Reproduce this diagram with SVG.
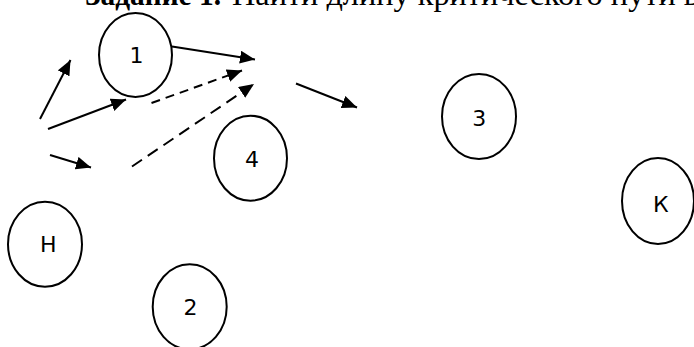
<svg xmlns="http://www.w3.org/2000/svg" width="694" height="347" viewBox="0 0 694 347">
<style>
.node ellipse{fill:none;stroke:#000;stroke-width:2}
.node text{font-family:"DejaVu Sans","Liberation Sans",sans-serif;font-size:22px;fill:#000;text-anchor:middle}
.title{font-family:"Liberation Serif","Times New Roman",serif;font-size:31px;fill:#000}
.edge{stroke:#000;stroke-width:2;fill:none;marker-end:url(#ah)}
.d1{stroke-dasharray:9 6}
.d2{stroke-dasharray:12 7}
</style>
<defs>
<marker id="ah" markerUnits="userSpaceOnUse" markerWidth="16" markerHeight="14" refX="15" refY="6.5" orient="auto">
<path d="M0,0 L15,6.5 L0,13 z" fill="#000"/>
</marker>
</defs>
<rect width="694" height="347" fill="#fff"/>
<text class="title" x="85" y="5" font-weight="bold" textLength="136" lengthAdjust="spacingAndGlyphs">Задание 1.</text>
<text class="title" x="232" y="5" textLength="467" lengthAdjust="spacingAndGlyphs">Найти длину критического пути в</text>
<g id="connectors">
<line class="edge" x1="40" y1="119" x2="70.5" y2="60"/>
<line class="edge" x1="48" y1="129" x2="126" y2="99.5"/>
<line class="edge" x1="50" y1="155" x2="91" y2="167.5"/>
<line class="edge" x1="172" y1="46.5" x2="255" y2="59.5"/>
<line class="edge d1" x1="151.5" y1="103" x2="242" y2="70.5"/>
<line class="edge d2" x1="132" y1="166.5" x2="254" y2="84"/>
<line class="edge" x1="296" y1="83.5" x2="357" y2="107.5"/>
</g>
<g id="node-1" class="node"><ellipse cx="135.5" cy="55" rx="36.5" ry="42"/><text x="136.5" y="62.5">1</text></g>
<g id="node-4" class="node"><ellipse cx="250.5" cy="158.2" rx="36.5" ry="42.5"/><text x="252" y="166.5">4</text></g>
<g id="node-N" class="node"><ellipse cx="45" cy="244.2" rx="37" ry="42.5"/><text x="48.3" y="251.7">Н</text></g>
<g id="node-2" class="node"><ellipse cx="189.7" cy="306.8" rx="37" ry="42.5"/><text x="190.5" y="315">2</text></g>
<g id="node-3" class="node"><ellipse cx="479" cy="116.5" rx="37" ry="42.5"/><text x="479.3" y="126">3</text></g>
<g id="node-K" class="node"><ellipse cx="658" cy="201" rx="36" ry="43"/><text x="660.8" y="211.7">К</text></g>
</svg>
